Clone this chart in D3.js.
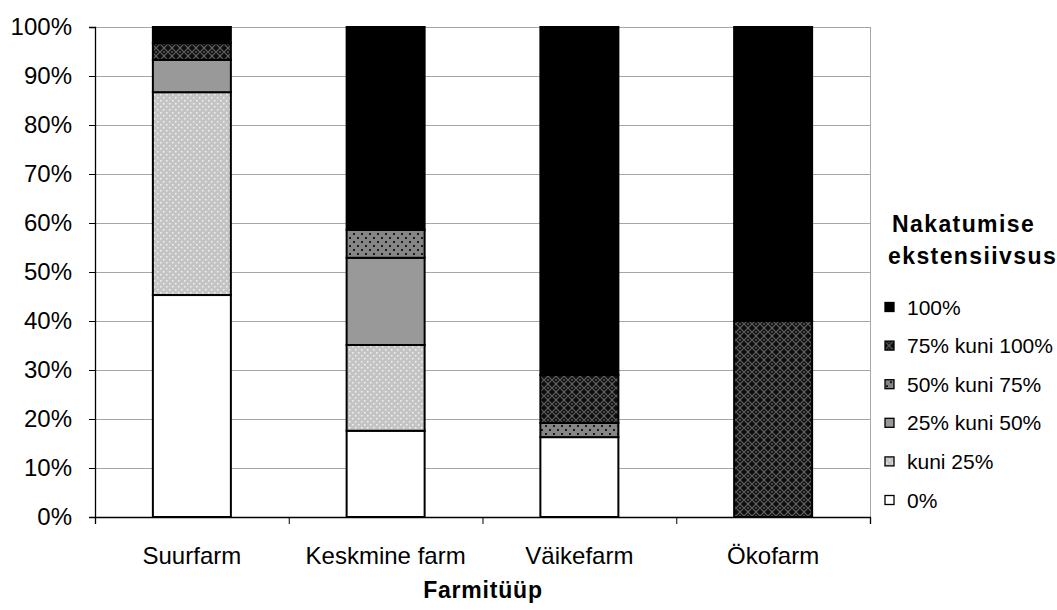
<!DOCTYPE html>
<html><head><meta charset="utf-8">
<script src="https://cdn.jsdelivr.net/npm/d3@7"></script>
<style>
body{margin:0;background:#fff;}
text{font-family:"Liberation Sans",Arial,sans-serif;fill:#000;}
</style></head>
<body><svg id="c" width="1057" height="610"></svg>
<script>
const categories = ["Suurfarm","Keskmine farm","Väikefarm","Ökofarm"];
const seriesNames = ["0%","kuni 25%","25% kuni 50%","50% kuni 75%","75% kuni 100%","100%"];
const s0 = [45.3, 17.6, 16.3, 0];
const s1 = [41.4, 17.5, 0, 0];
const s2 = [6.6, 17.8, 0, 0];
const s3 = [0, 5.7, 2.9, 0];
const s4 = [3.4, 0, 9.8, 40];
const s5 = [3.3, 41.4, 71.0, 60];
const yTicks = [0,10,20,30,40,50,60,70,80,90,100];
const legendTitle = ["Nakatumise","ekstensiivsus"];
const xTitle = "Farmitüüp";

const seriesVals = [s0,s1,s2,s3,s4,s5];
const fills = ["#ffffff","url(#pLight)","#999999","url(#pDots)","url(#pCross)","#000000"];

const svg = d3.select("#c");
const defs = svg.append("defs");
let p = defs.append("pattern").attr("id","pLight").attr("patternUnits","userSpaceOnUse").attr("width",6).attr("height",6);
p.append("rect").attr("width",6).attr("height",6).attr("fill","#c4c4c4");
p.append("rect").attr("x",1).attr("y",1).attr("width",1.5).attr("height",1.5).attr("fill","#f2f2f2");
p.append("rect").attr("x",4).attr("y",4).attr("width",1.5).attr("height",1.5).attr("fill","#f2f2f2");
p = defs.append("pattern").attr("id","pDots").attr("patternUnits","userSpaceOnUse").attr("width",8).attr("height",8);
p.append("rect").attr("width",8).attr("height",8).attr("fill","#858585");
p.append("rect").attr("x",1).attr("y",1).attr("width",2).attr("height",2).attr("fill","#1a1a1a");
p.append("rect").attr("x",5).attr("y",5).attr("width",2).attr("height",2).attr("fill","#1a1a1a");
p = defs.append("pattern").attr("id","pCross").attr("patternUnits","userSpaceOnUse").attr("width",8).attr("height",8);
p.append("rect").attr("width",8).attr("height",8).attr("fill","#0d0d0d");
p.append("path").attr("d","M0,4 L4,0 L8,4 L4,8 Z").attr("fill","none").attr("stroke","#606060").attr("stroke-width",1.2);
p.append("rect").attr("x",3).attr("y",3).attr("width",2).attr("height",2).attr("fill","#4a4a4a");

const L = 95, R = 870, T = 27, B = 517;
const x = d3.scaleBand().domain(categories).range([L,R]).padding(0);
const y = d3.scaleLinear().domain([0,100]).range([B,T]);
const barW = 78;

svg.append("g").selectAll("line").data(yTicks.filter(d=>d>0)).join("line")
  .attr("x1",L).attr("x2",R).attr("y1",d=>y(d)+0.5).attr("y2",d=>y(d)+0.5)
  .attr("stroke","#a6a6a6").attr("stroke-width",1);
svg.append("line").attr("x1",R+0.5).attr("x2",R+0.5).attr("y1",T).attr("y2",B).attr("stroke","#a6a6a6");

const stackData = categories.map((c,i)=>{
  const o={cat:c}; seriesNames.forEach((s,j)=>o[s]=seriesVals[j][i]); return o;});
const stacked = d3.stack().keys(seriesNames)(stackData);
svg.append("g").selectAll("g").data(stacked).join("g")
  .attr("fill",(d,i)=>fills[i])
  .selectAll("rect").data(d=>d.filter(e=>e[1]-e[0]>0)).join("rect")
  .attr("x",d=>x(d.data.cat)+x.bandwidth()/2-barW/2)
  .attr("width",barW)
  .attr("y",d=>y(d[1]))
  .attr("height",d=>y(d[0])-y(d[1]))
  .attr("stroke","#000").attr("stroke-width",2);

const yAxis = svg.append("g").attr("transform",`translate(${L},0)`)
  .call(d3.axisLeft(y).tickValues(yTicks).tickFormat(d=>d+"%").tickSize(6).tickPadding(17));
yAxis.select(".domain").attr("stroke","#000").attr("stroke-width",1.3);
yAxis.selectAll(".tick line").attr("stroke","#000");
yAxis.selectAll("text").attr("font-size",24).attr("font-family","Liberation Sans, Arial");

const xb = d3.scaleLinear().domain([0,4]).range([L,R]);
const xAxis = svg.append("g").attr("transform",`translate(0,${B})`)
  .call(d3.axisBottom(xb).tickValues([0,1,2,3,4]).tickFormat("").tickSize(7));
xAxis.select(".domain").attr("stroke","#000").attr("stroke-width",1.3);
xAxis.selectAll(".tick line").attr("stroke","#000");

svg.append("g").selectAll("text").data(categories).join("text")
  .attr("x",d=>x(d)+x.bandwidth()/2).attr("y",564)
  .attr("text-anchor","middle").attr("font-size",24).text(d=>d);

svg.append("text").attr("x",483).attr("y",598).attr("text-anchor","middle")
  .attr("font-size",23).attr("font-weight","bold").attr("letter-spacing",0.8).text(xTitle);

const lg = svg.append("g");
lg.selectAll("text.t").data(legendTitle).join("text").attr("class","t")
  .attr("x",(d,i)=>i===0?892:888).attr("y",(d,i)=>232+i*32)
  .attr("font-size",23).attr("font-weight","bold").attr("letter-spacing",1.4).text(d=>d);
const items = seriesNames.slice().reverse();
const itemFills = fills.slice().reverse();
const li = lg.selectAll("g.i").data(items).join("g").attr("class","i")
  .attr("transform",(d,i)=>`translate(885,${307+i*38.6})`);
li.append("rect").attr("x",0).attr("y",-4.5).attr("width",9).attr("height",9)
  .attr("fill",(d,i)=>itemFills[i]).attr("stroke","#000").attr("stroke-width",1.3);
li.append("text").attr("x",22).attr("y",7.5).attr("font-size",21).text(d=>d);
</script></body></html>
